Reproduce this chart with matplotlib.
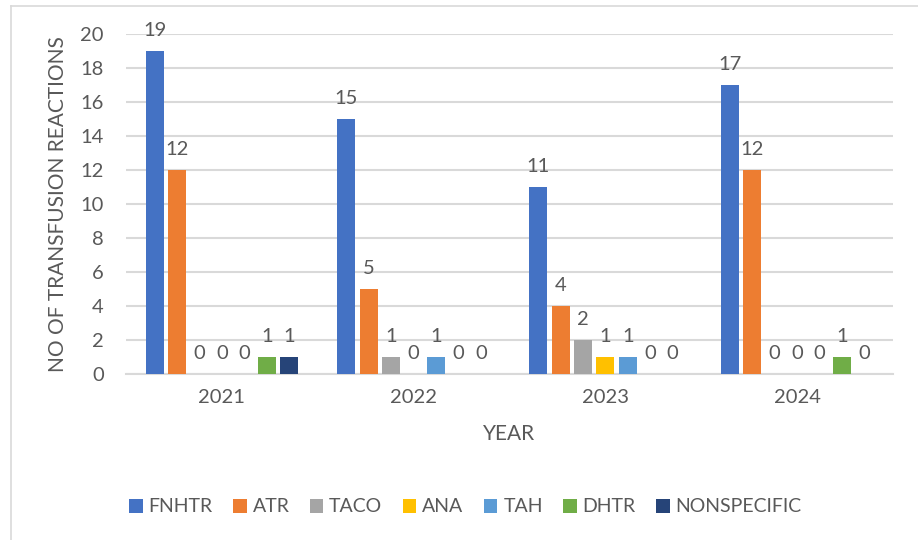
import matplotlib.pyplot as plt
from matplotlib.lines import Line2D
import numpy as np

years = ["2021", "2022", "2023", "2024"]
series = ["FNHTR", "ATR", "TACO", "ANA", "TAH", "DHTR", "NONSPECIFIC"]
fnhtr = [19, 15, 11, 17]
atr = [12, 5, 4, 12]
taco = [0, 1, 2, 0]
ana = [0, 0, 1, 0]
tah = [0, 1, 1, 0]
dhtr = [1, 0, 0, 1]
nonspecific = [1, 0, 0, 0]
colors = ["#4472C4", "#ED7D31", "#A5A5A5", "#FFC000", "#5B9BD5", "#70AD47", "#264478"]

plt.rcParams['font.family'] = ['Lato', 'DejaVu Sans']
txt = "#595959"

fig = plt.figure(figsize=(9.18, 5.4), dpi=100)
ax = fig.add_axes([0.1373, 0.3074, 0.8355, 0.6296])

values = [fnhtr, atr, taco, ana, tah, dhtr, nonspecific]
x = np.arange(len(years))
pitch = 0.117
width = 0.094
for i, (name, vals) in enumerate(zip(series, values)):
    pos = x + (i - 3) * pitch
    bars = ax.bar(pos, vals, width, color=colors[i], label=name, zorder=3)
    for b, v in zip(bars, vals):
        ax.annotate(str(v), (b.get_x() + b.get_width() / 2, v),
                    xytext=(0, 9), textcoords='offset points',
                    ha='center', va='bottom', fontsize=14.5, color=txt)

ax.set_xlim(-0.5, len(years) - 0.5)
ax.set_ylim(0, 20)
ax.set_yticks(range(0, 21, 2))
ax.set_xticks(x)
ax.set_xticklabels(years)
ax.tick_params(axis='both', length=0, labelsize=14.5, labelcolor=txt)
ax.tick_params(axis='y', pad=16)
ax.tick_params(axis='x', pad=11)
ax.grid(axis='y', color='#D9D9D9', linewidth=1.5, zorder=0)
for s in ['top', 'right', 'left']:
    ax.spines[s].set_visible(False)
ax.spines['bottom'].set_color('#D9D9D9')
ax.spines['bottom'].set_linewidth(1.5)

ax.set_ylabel("NO OF TRANSFUSION REACTIONS", fontsize=15, color=txt, labelpad=9)
ax.set_xlabel("YEAR", fontsize=15, color=txt, labelpad=13)

# legend row is centred on the whole figure, not the plot area
fig.legend(loc='center', bbox_to_anchor=(0.507, 1 - 507 / 540), ncol=7, frameon=False,
           fontsize=14, labelcolor=txt, handlelength=0.7, handleheight=0.7,
           handletextpad=0.3, columnspacing=1.05)

# light frame around the chart area
fig.add_artist(Line2D([11 / 918, 11 / 918], [0, 1 - 6 / 540], color='#D9D9D9', linewidth=1.2))
fig.add_artist(Line2D([11 / 918, 1], [1 - 6 / 540, 1 - 6 / 540], color='#D9D9D9', linewidth=1.2))

fig.savefig("out.png", dpi=100)
